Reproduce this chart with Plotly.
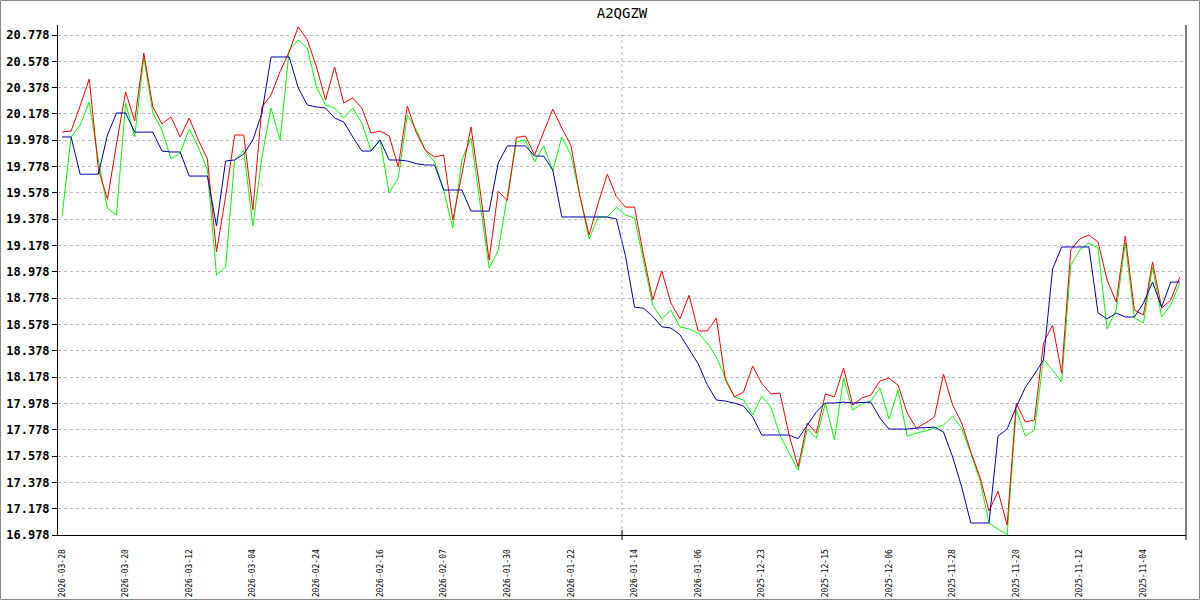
import plotly.graph_objects as go

tick_labels = ["2026-03-28", "2026-03-20", "2026-03-12", "2026-03-04", "2026-02-24", "2026-02-16",
               "2026-02-07", "2026-01-30", "2026-01-22", "2026-01-14", "2026-01-06", "2025-12-23",
               "2025-12-15", "2025-12-06", "2025-11-28", "2025-11-20", "2025-11-12", "2025-11-04"]

red = [20.041, 20.048, 20.24, 20.444, 19.76, 19.53, 19.95, 20.345, 20.124, 20.641,
       20.231, 20.102, 20.155, 20.003, 20.147, 19.98, 19.836, 19.129, 19.55, 20.018,
       20.018, 19.448, 20.231, 20.322, 20.5, 20.65, 20.84, 20.74, 20.535, 20.284,
       20.535, 20.261, 20.30, 20.223, 20.033, 20.048, 20.011, 19.775, 20.238, 20.033,
       19.90, 19.85, 19.866, 19.37, 19.72, 20.08, 19.6, 19.068, 19.59, 19.52,
       20.0, 20.01, 19.866, 20.04, 20.215, 20.07, 19.94, 19.55, 19.258, 19.5,
       19.72, 19.55, 19.47, 19.47, 19.1, 18.764, 18.985, 18.741, 18.62, 18.80,
       18.529, 18.529, 18.627, 18.156, 18.027, 18.065, 18.262, 18.13, 18.05, 18.057,
       17.74, 17.495, 17.829, 17.753, 18.05, 18.027, 18.247, 17.966, 18.019, 18.042,
       18.148, 18.17, 18.117, 17.905, 17.79, 17.829, 17.875, 18.20, 17.966, 17.829,
       17.61, 17.42, 17.16, 17.31, 17.054, 17.981, 17.837, 17.852, 18.437, 18.574,
       18.21, 19.144, 19.228, 19.258, 19.205, 18.916, 18.749, 19.25, 18.688, 18.65,
       19.053, 18.703, 18.764, 18.939]

green = [19.40, 20.003, 20.094, 20.269, 19.828, 19.46, 19.41, 20.261, 20.003, 20.611,
         20.185, 20.056, 19.836, 19.881, 20.063, 19.927, 19.752, 18.954, 19.015, 19.828,
         19.90, 19.326, 19.85, 20.223, 19.98, 20.664, 20.74, 20.679, 20.383, 20.246,
         20.223, 20.147, 20.223, 20.109, 19.90, 19.98, 19.577, 19.69, 20.17, 20.056,
         19.9, 19.813, 19.6, 19.31, 19.828, 19.995, 19.5, 19.007, 19.14, 19.55,
         19.965, 19.98, 19.813, 19.935, 19.745, 20.003, 19.866, 19.55, 19.227, 19.395,
         19.395, 19.47, 19.41, 19.387, 19.05, 18.726, 18.62, 18.688, 18.559, 18.544,
         18.513, 18.437, 18.331, 18.171, 18.027, 18.004, 17.89, 18.034, 17.95, 17.738,
         17.6, 17.47, 17.783, 17.715, 17.981, 17.70, 18.171, 17.928, 17.973, 17.996,
         18.095, 17.86, 18.08, 17.73, 17.753, 17.768, 17.79, 17.814, 17.882, 17.79,
         17.60, 17.396, 17.069, 17.024, 16.978, 17.928, 17.73, 17.776, 18.315, 18.232,
         18.141, 19.03, 19.144, 19.197, 19.16, 18.544, 18.688, 19.197, 18.627, 18.589,
         19.015, 18.635, 18.726, 18.893]

blue = [20.003, 20.003, 19.72, 19.72, 19.72, 20.018, 20.185, 20.185, 20.04, 20.04,
        20.04, 19.896, 19.889, 19.889, 19.706, 19.706, 19.706, 19.326, 19.82, 19.828,
        19.873, 19.98, 20.185, 20.611, 20.611, 20.611, 20.375, 20.246, 20.231, 20.223,
        20.147, 20.117, 20.003, 19.896, 19.896, 19.98, 19.828, 19.828, 19.82, 19.80,
        19.79, 19.79, 19.60, 19.60, 19.60, 19.44, 19.44, 19.44, 19.805, 19.935,
        19.935, 19.935, 19.858, 19.858, 19.752, 19.395, 19.395, 19.395, 19.395, 19.395,
        19.395, 19.38, 19.1, 18.71, 18.70, 18.64, 18.56, 18.551, 18.50, 18.39,
        18.28, 18.12, 18.004, 17.996, 17.98, 17.958, 17.875, 17.738, 17.738, 17.738,
        17.738, 17.71, 17.814, 17.913, 17.981, 17.981, 17.988, 17.981, 17.985, 17.988,
        17.867, 17.783, 17.783, 17.783, 17.79, 17.795, 17.798, 17.76, 17.571, 17.343,
        17.069, 17.069, 17.069, 17.73, 17.783, 17.951, 18.1, 18.2, 18.308, 19.0,
        19.167, 19.167, 19.167, 19.167, 18.665, 18.62, 18.665, 18.635, 18.635, 18.741,
        18.90, 18.71, 18.90, 18.90]

y_ticks = [16.978 + 0.2 * k for k in range(20)]
label_step = 7

x = list(range(len(red)))

fig = go.Figure()
fig.add_trace(go.Scatter(x=x, y=green, mode="lines", line=dict(color="#00ff00", width=1), hoverinfo="skip"))
fig.add_trace(go.Scatter(x=x, y=red, mode="lines", line=dict(color="#ff0000", width=1), hoverinfo="skip"))
fig.add_trace(go.Scatter(x=x, y=blue, mode="lines", line=dict(color="#0000aa", width=1), hoverinfo="skip"))

fig.update_layout(
    width=1200, height=600,
    margin=dict(l=58, r=14, t=25, b=65, autoexpand=False),
    paper_bgcolor="white", plot_bgcolor="white",
    showlegend=False,
    title=dict(text="A2QGZW", x=0.5, xref="paper", xanchor="center", y=1 - 13 / 600, yanchor="middle",
               font=dict(family="DejaVu Sans Mono", size=14, color="black")),
    xaxis=dict(
        range=[-0.44, 123.68],
        tickmode="array",
        tickvals=[i * label_step for i in range(len(tick_labels))],
        ticktext=tick_labels,
        tickangle=-90,
        tickfont=dict(family="DejaVu Sans Mono", size=8, color="black"),
        showgrid=False, zeroline=False,
        showline=True, linecolor="black", linewidth=1,
        ticks="", ticklabelstandoff=10, automargin=False,
    ),
    yaxis=dict(
        range=[16.978, 20.854],
        tickmode="array",
        tickvals=y_ticks,
        ticktext=["%.3f" % v for v in y_ticks],
        tickfont=dict(family="DejaVu Sans Mono", size=12, color="black", weight="bold"),
        showgrid=True, gridcolor="#bbbbbb", griddash="3px,3px", gridwidth=1,
        zeroline=False,
        showline=True, linecolor="black", linewidth=1,
        ticks="outside", ticklen=5, tickcolor="black", automargin=False,
    ),
)

# right border line of plot area
fig.add_shape(type="line", xref="paper", yref="paper", x0=1, x1=1, y0=-0.01, y1=1,
              line=dict(color="black", width=1))
# middle dashed vertical guide and tick
fig.add_shape(type="line", xref="paper", yref="paper", x0=0.5, x1=0.5, y0=0, y1=0.99,
              line=dict(color="#bbbbbb", width=1, dash="3px,3px"))
fig.add_shape(type="line", xref="paper", yref="paper", x0=0.5, x1=0.5, y0=-0.01, y1=0.01,
              line=dict(color="black", width=1))
# outer frame
fig.add_shape(type="rect", xref="paper", yref="paper",
              x0=-57.5 / 1128, x1=(1199.5 - 58) / 1128, y0=-64.5 / 510, y1=1 + 24.5 / 510,
              line=dict(color="#888888", width=1), fillcolor="rgba(0,0,0,0)")

fig.write_html("out.html", config={"displayModeBar": False},
               post_script="document.body.style.margin='0';document.body.style.overflow='hidden';")
